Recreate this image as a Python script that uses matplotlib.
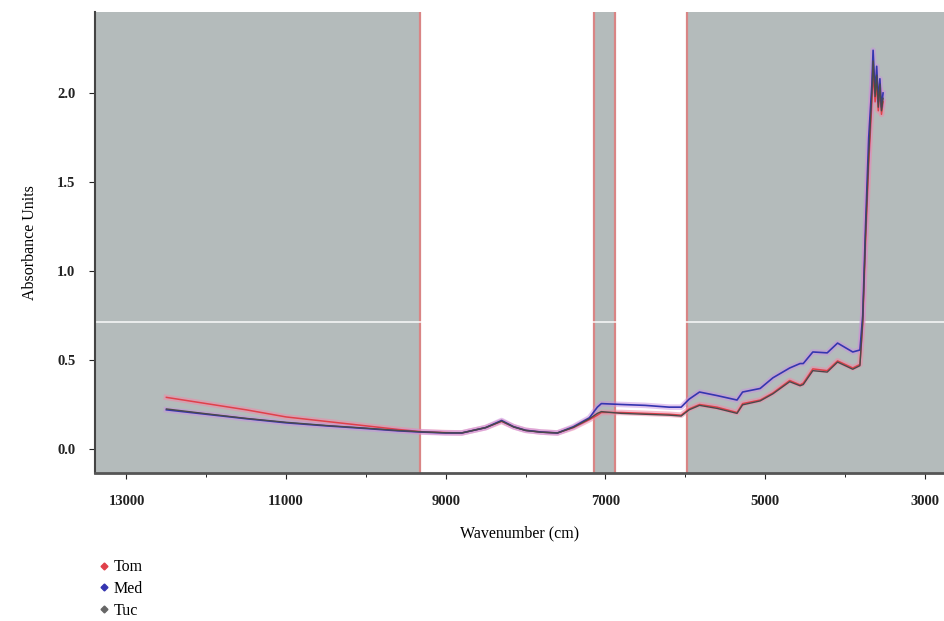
import matplotlib
matplotlib.use('Agg')
import matplotlib.pyplot as plt
from matplotlib.lines import Line2D

# wavenumber (cm-1) readings shared by the three spectra
wn = [12500, 12000, 11500, 11000, 10500, 10000, 9600, 9300, 9000, 8800,
      8500, 8300, 8150, 8000, 7800, 7600, 7400, 7200, 7100, 7050,
      6800, 6500, 6200, 6050, 5950, 5820, 5600, 5350, 5280, 5060,
      4900, 4690, 4560, 4520, 4400, 4220, 4090, 3900, 3810, 3775,
      3740, 3700, 3660, 3645, 3620, 3600, 3580, 3560, 3540, 3520]

tom = [0.29, 0.255, 0.22, 0.18, 0.155, 0.13, 0.11, 0.097, 0.092, 0.09,
       0.12, 0.155, 0.125, 0.105, 0.095, 0.09, 0.12, 0.165, 0.19, 0.205,
       0.205, 0.2, 0.195, 0.19, 0.225, 0.25, 0.235, 0.205, 0.255, 0.275,
       0.315, 0.385, 0.36, 0.37, 0.45, 0.44, 0.495, 0.455, 0.475, 0.7,
       1.15, 1.6, 1.95, 2.12, 1.95, 2.05, 1.9, 2.02, 1.88, 1.95]

med = [0.22, 0.195, 0.17, 0.147, 0.13, 0.115, 0.102, 0.095, 0.09, 0.09,
       0.12, 0.16, 0.125, 0.105, 0.095, 0.09, 0.125, 0.175, 0.235, 0.255,
       0.25, 0.245, 0.235, 0.235, 0.28, 0.32, 0.3, 0.275, 0.32, 0.34,
       0.4, 0.455, 0.48, 0.48, 0.545, 0.54, 0.595, 0.545, 0.556, 0.75,
       1.25, 1.75, 2.05, 2.24, 2.0, 2.15, 1.95, 2.08, 1.92, 2.0]

tuc = [0.225, 0.198, 0.172, 0.15, 0.132, 0.117, 0.104, 0.096, 0.091, 0.09,
       0.12, 0.157, 0.124, 0.104, 0.094, 0.09, 0.122, 0.17, 0.2, 0.21,
       0.2, 0.195, 0.19, 0.185, 0.22, 0.245, 0.228, 0.2, 0.248, 0.27,
       0.31, 0.378, 0.355, 0.362, 0.44, 0.432, 0.488, 0.448, 0.468, 0.72,
       1.2, 1.65, 2.0, 2.18, 1.98, 2.1, 1.92, 2.05, 1.9, 1.97]

# excluded (shaded) spectral regions and their boundaries
bands = [(13400, 9322), (7142, 6878), (5976, 2700)]
edges = [9322, 7142, 6878, 5976]

plt.rcParams['font.family'] = ['Liberation Serif', 'DejaVu Serif']

fig = plt.figure(figsize=(9.45, 6.21), dpi=100)
ax = fig.add_axes([0.1005, 0.2383, 0.8995, 0.7424])

grey = '#b4bbbb'
for a, b in bands:
    ax.axvspan(a, b, color=grey, lw=0, zorder=0)
for e in edges:
    ax.axvline(e, color='#d98585', lw=1.6, zorder=1)
ax.axhline(0.713, color='white', lw=1.2, alpha=0.85, zorder=1)

# pink halo + core lines
ax.plot(wn, tom, color='#f08aa8', lw=4, alpha=0.55, zorder=2)
ax.plot(wn, med, color='#c890e0', lw=4, alpha=0.5, zorder=2)
ax.plot(wn, tom, color='#e0404a', lw=1.1, zorder=3)
ax.plot(wn, med, color='#3535b0', lw=1.2, zorder=3)
ax.plot(wn, tuc, color='#4a4a4a', lw=1.0, zorder=4)

ax.set_xlim(13395, 2744)
ax.set_ylim(-0.135, 2.455)
ax.set_xticks([13000, 11000, 9000, 7000, 5000, 3000])
ax.set_xticks(range(3000, 13001, 1000), minor=True)
ax.set_yticks([0.0, 0.5, 1.0, 1.5, 2.0])
ax.set_yticklabels(['0.0', '0.5', '1.0', '1.5', '2.0'])

for s in ['top', 'right']:
    ax.spines[s].set_visible(False)
ax.spines['left'].set_color('#444444')
ax.spines['left'].set_linewidth(1.5)
ax.spines['bottom'].set_color('#555555')
ax.spines['bottom'].set_linewidth(2)

ax.tick_params(axis='x', which='major', length=4, pad=12, labelsize=10.5, colors='#222222')
ax.tick_params(axis='x', which='minor', length=3)
ax.tick_params(axis='y', length=4, pad=10, labelsize=10.5, colors='#222222')
for lab in ax.get_xticklabels() + ax.get_yticklabels():
    lab.set_fontweight('bold')

ax.set_xlabel('Wavenumber (cm)', fontsize=11.5, labelpad=12)
ax.set_ylabel('Absorbance Units', fontsize=11.5, labelpad=14)

handles = [Line2D([], [], ls='none', marker='D', ms=3.5, color='#e0404a'),
           Line2D([], [], ls='none', marker='D', ms=3.5, color='#3535b0'),
           Line2D([], [], ls='none', marker='D', ms=3.5, color='#666666')]
fig.legend(handles, ['Tom', 'Med', 'Tuc'], loc='upper left',
           bbox_to_anchor=(0.095, 0.905 - 0.0), bbox_transform=fig.transFigure,
           frameon=False, fontsize=11.5, handletextpad=0.1, handlelength=1.0,
           labelspacing=0.35, borderaxespad=0)
fig.legends[0].set_bbox_to_anchor((0.095, 1 - 553 / 621), transform=fig.transFigure)

fig.savefig('out.png', dpi=100)
